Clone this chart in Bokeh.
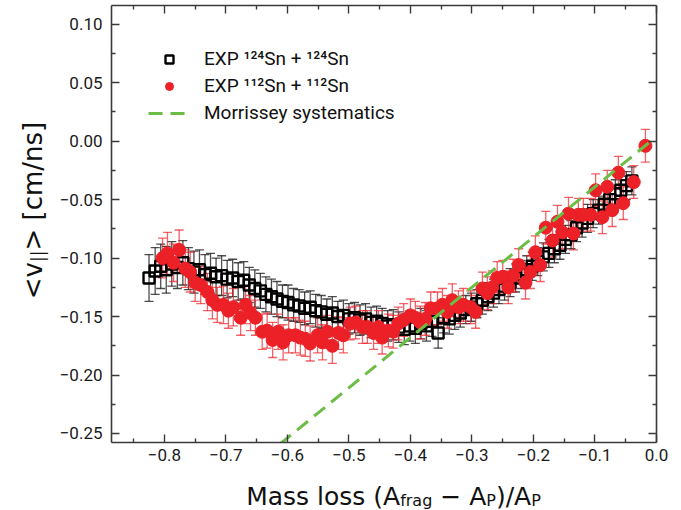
import glob
import math
import struct
from bokeh.plotting import figure
from bokeh.layouts import row, column
from bokeh.models import (Range1d, LinearAxis, FixedTicker, CustomJSTickFormatter,
                          ColumnDataSource, Whisker, TeeHead, Legend, LegendItem, Label)
from bokeh.embed import file_html
from bokeh.resources import INLINE

# ---------------- data ----------------
x_ticks = [-0.8, -0.7, -0.6, -0.5, -0.4, -0.3, -0.2, -0.1, 0.0]
x_minor = [-0.85, -0.75, -0.65, -0.55, -0.45, -0.35, -0.25, -0.15, -0.05]
y_ticks = [-0.25, -0.20, -0.15, -0.10, -0.05, 0.00, 0.05, 0.10]
y_minor = [-0.225, -0.175, -0.125, -0.075, -0.025, 0.025, 0.075]

sn124_x = [-0.825, -0.815, -0.806, -0.797, -0.788, -0.779, -0.770, -0.761, -0.752, -0.743,
           -0.734, -0.725, -0.716, -0.707, -0.698, -0.689, -0.680, -0.671, -0.662, -0.653,
           -0.644, -0.635, -0.626, -0.617, -0.608, -0.599, -0.590, -0.581, -0.572, -0.563,
           -0.554, -0.545, -0.536, -0.527, -0.518, -0.509, -0.500, -0.491, -0.482, -0.473,
           -0.464, -0.455, -0.446, -0.437, -0.428, -0.419, -0.410, -0.401, -0.392, -0.383,
           -0.374, -0.365, -0.355, -0.346, -0.337, -0.328, -0.319, -0.310, -0.301, -0.292,
           -0.283, -0.274, -0.265, -0.256, -0.247, -0.238, -0.229, -0.220, -0.211, -0.202,
           -0.193, -0.184, -0.175, -0.166, -0.157, -0.148, -0.139, -0.130, -0.121, -0.112,
           -0.103, -0.094, -0.085, -0.076, -0.067, -0.058, -0.049, -0.040]
sn124_v = [-0.117, -0.111, -0.107, -0.110, -0.105, -0.108, -0.104, -0.109, -0.112, -0.110,
           -0.114, -0.113, -0.116, -0.115, -0.118, -0.117, -0.120, -0.119, -0.123, -0.126,
           -0.128, -0.131, -0.133, -0.135, -0.137, -0.138, -0.140, -0.141, -0.143, -0.142,
           -0.145, -0.146, -0.148, -0.147, -0.150, -0.149, -0.152, -0.151, -0.153, -0.152,
           -0.155, -0.154, -0.156, -0.158, -0.157, -0.159, -0.161, -0.158, -0.160, -0.156,
           -0.158, -0.154, -0.164, -0.151, -0.152, -0.149, -0.147, -0.144, -0.142, -0.139,
           -0.136, -0.133, -0.130, -0.127, -0.124, -0.121, -0.117, -0.114, -0.110, -0.107,
           -0.103, -0.099, -0.096, -0.092, -0.089, -0.084, -0.080, -0.074, -0.070, -0.066,
           -0.062, -0.059, -0.054, -0.050, -0.045, -0.042, -0.038, -0.034]
sn124_err = [0.020, 0.020, 0.019, 0.020, 0.019, 0.018, 0.019, 0.018, 0.018, 0.017,
             0.017, 0.017, 0.016, 0.017, 0.016, 0.016, 0.016, 0.016, 0.015, 0.016,
             0.015, 0.015, 0.015, 0.015, 0.014, 0.015, 0.014, 0.014, 0.014, 0.014,
             0.014, 0.014, 0.013, 0.014, 0.013, 0.013, 0.013, 0.013, 0.013, 0.013,
             0.013, 0.013, 0.013, 0.013, 0.013, 0.013, 0.013, 0.013, 0.013, 0.013,
             0.013, 0.013, 0.013, 0.013, 0.013, 0.012, 0.012, 0.012, 0.012, 0.012,
             0.012, 0.012, 0.012, 0.012, 0.012, 0.012, 0.012, 0.012, 0.012, 0.012,
             0.012, 0.012, 0.012, 0.012, 0.012, 0.012, 0.012, 0.012, 0.012, 0.012,
             0.012, 0.012, 0.012, 0.012, 0.012, 0.012, 0.012, 0.012]

sn112_x = [-0.803, -0.795, -0.785, -0.776, -0.766, -0.758, -0.750, -0.741, -0.730, -0.722,
           -0.714, -0.704, -0.696, -0.688, -0.676, -0.668, -0.660, -0.652, -0.641, -0.633,
           -0.624, -0.615, -0.607, -0.598, -0.587, -0.579, -0.571, -0.563, -0.551, -0.543,
           -0.535, -0.527, -0.517, -0.509, -0.498, -0.489, -0.478, -0.470, -0.460, -0.452,
           -0.446, -0.436, -0.428, -0.420, -0.411, -0.400, -0.392, -0.384, -0.376, -0.367,
           -0.356, -0.348, -0.340, -0.332, -0.322, -0.314, -0.302, -0.294, -0.283, -0.275,
           -0.267, -0.259, -0.250, -0.241, -0.233, -0.224, -0.213, -0.205, -0.197, -0.189,
           -0.180, -0.169, -0.161, -0.153, -0.143, -0.135, -0.127, -0.119, -0.107, -0.099,
           -0.088, -0.080, -0.072, -0.062, -0.054, -0.037, -0.018]
sn112_v = [-0.100, -0.096, -0.104, -0.093, -0.109, -0.112, -0.121, -0.123, -0.129, -0.136,
           -0.140, -0.140, -0.145, -0.142, -0.151, -0.140, -0.147, -0.151, -0.163, -0.162,
           -0.170, -0.163, -0.172, -0.166, -0.166, -0.168, -0.169, -0.173, -0.166, -0.172,
           -0.163, -0.175, -0.164, -0.166, -0.156, -0.155, -0.159, -0.159, -0.164, -0.159,
           -0.168, -0.162, -0.163, -0.156, -0.153, -0.149, -0.151, -0.155, -0.152, -0.143,
           -0.143, -0.140, -0.146, -0.136, -0.142, -0.140, -0.142, -0.146, -0.126, -0.130,
           -0.125, -0.117, -0.116, -0.125, -0.115, -0.106, -0.121, -0.112, -0.095, -0.106,
           -0.074, -0.085, -0.069, -0.078, -0.062, -0.079, -0.063, -0.063, -0.063, -0.042,
           -0.065, -0.039, -0.059, -0.027, -0.053, -0.035, -0.004]
sn112_err = [0.017, 0.018, 0.016, 0.017, 0.016, 0.017, 0.016, 0.016, 0.016, 0.016,
             0.015, 0.016, 0.015, 0.016, 0.015, 0.016, 0.015, 0.015, 0.015, 0.015,
             0.015, 0.015, 0.015, 0.015, 0.015, 0.015, 0.015, 0.015, 0.015, 0.015,
             0.014, 0.015, 0.014, 0.015, 0.014, 0.014, 0.014, 0.014, 0.014, 0.014,
             0.014, 0.014, 0.014, 0.014, 0.014, 0.014, 0.014, 0.014, 0.014, 0.014,
             0.014, 0.014, 0.014, 0.014, 0.014, 0.014, 0.014, 0.014, 0.014, 0.014,
             0.014, 0.014, 0.014, 0.014, 0.014, 0.014, 0.014, 0.014, 0.014, 0.014,
             0.014, 0.014, 0.014, 0.014, 0.014, 0.014, 0.014, 0.014, 0.014, 0.014,
             0.014, 0.014, 0.014, 0.014, 0.014, 0.014, 0.014]

morrissey_x = [-0.612, -0.012]
morrissey_v = [-0.259, -0.0012]

legend_labels = ["EXP \u00b9\u00b2\u2074Sn + \u00b9\u00b2\u2074Sn",
                 "EXP \u00b9\u00b9\u00b2Sn + \u00b9\u00b9\u00b2Sn",
                 "Morrissey systematics"]

# ---------------- font metrics (for composing titles with subscripts) ----------------
FONT = "Roboto"
TFONT = "DejaVu Sans"


def load_widths(pats):
    for pat in pats:
        for path in sorted(glob.glob(pat, recursive=True)):
            try:
                d = open(path, "rb").read()
                n = struct.unpack(">H", d[4:6])[0]
                tabs = {}
                for i in range(n):
                    tag, _, off, ln = struct.unpack(">4sIII", d[12 + 16 * i:28 + 16 * i])
                    tabs[tag.decode("latin1")] = off
                upem = struct.unpack(">H", d[tabs["head"] + 18:tabs["head"] + 20])[0]
                nhm = struct.unpack(">H", d[tabs["hhea"] + 34:tabs["hhea"] + 36])[0]
                hm = tabs["hmtx"]
                adv = [struct.unpack(">H", d[hm + 4 * i:hm + 4 * i + 2])[0] for i in range(nhm)]
                cm = tabs["cmap"]
                nsub = struct.unpack(">H", d[cm + 2:cm + 4])[0]
                cmap = {}
                for i in range(nsub):
                    pid, eid, off = struct.unpack(">HHI", d[cm + 4 + 8 * i:cm + 12 + 8 * i])
                    st = cm + off
                    if struct.unpack(">H", d[st:st + 2])[0] != 4:
                        continue
                    sx2 = struct.unpack(">H", d[st + 6:st + 8])[0]
                    sg = sx2 // 2
                    ends = struct.unpack(">%dH" % sg, d[st + 14:st + 14 + sx2])
                    starts = struct.unpack(">%dH" % sg, d[st + 16 + sx2:st + 16 + 2 * sx2])
                    deltas = struct.unpack(">%dh" % sg, d[st + 16 + 2 * sx2:st + 16 + 3 * sx2])
                    rp = st + 16 + 3 * sx2
                    roffs = struct.unpack(">%dH" % sg, d[rp:rp + sx2])
                    for s in range(sg):
                        for c in range(starts[s], min(ends[s], 0x3000) + 1):
                            if roffs[s] == 0:
                                g = (c + deltas[s]) & 0xFFFF
                            else:
                                a = rp + 2 * s + roffs[s] + 2 * (c - starts[s])
                                g = struct.unpack(">H", d[a:a + 2])[0]
                                if g:
                                    g = (g + deltas[s]) & 0xFFFF
                            cmap[c] = g
                    break
                if cmap:
                    return lambda t, size: sum(adv[min(cmap.get(ord(ch), 0), nhm - 1)] for ch in t) / upem * size
            except Exception:
                continue
    return lambda t, size: 0.58 * size * len(t)


text_w = load_widths(["/usr/share/fonts/**/DejaVuSans.ttf", "/usr/local/share/fonts/**/DejaVuSans.ttf"])

# ---------------- page geometry ----------------
W, H = 681, 510
LEFT_W = 50            # strip holding the y title
BOT_H = 42             # strip holding the x title
MAIN_W, MAIN_H = W - LEFT_W, H - BOT_H
FL, FB = 111, 442      # frame left / bottom in page pixels

# ---------------- main figure ----------------
p = figure(width=MAIN_W, height=MAIN_H, output_backend="svg", toolbar_location=None,
           x_range=Range1d(-0.886, 0.0), y_range=Range1d(-0.2577, 0.116),
           x_axis_location=None, y_axis_location=None,
           min_border_left=FL - LEFT_W, min_border_right=25, min_border_top=5,
           min_border_bottom=MAIN_H - FB)
p.xgrid.visible = False
p.ygrid.visible = False
p.outline_line_color = None
p.background_fill_color = "white"
p.border_fill_color = "white"

AX_COL = "#3a3a3a"


def make_axis(ticks, minor, digits, labels, standoff):
    ax = LinearAxis(ticker=FixedTicker(ticks=ticks, minor_ticks=minor),
                    axis_line_color=AX_COL, axis_line_width=1.6,
                    major_tick_in=8, major_tick_out=0, minor_tick_in=4, minor_tick_out=0,
                    major_tick_line_color=AX_COL, major_tick_line_width=1.4,
                    minor_tick_line_color=AX_COL, minor_tick_line_width=1.4)
    if labels:
        ax.formatter = CustomJSTickFormatter(code=(
            "const v = Math.abs(tick) < 1e-9 ? 0 : tick;"
            "return v.toFixed(%d).replace('-', '\\u2212');" % digits))
        ax.major_label_text_font = FONT
        ax.major_label_text_font_size = "17px"
        ax.major_label_text_color = "#1a1a1a"
        ax.major_label_standoff = standoff
    else:
        ax.formatter = CustomJSTickFormatter(code="return '';")
        ax.major_label_text_font_size = "0px"
        ax.major_label_standoff = 0
    return ax


p.add_layout(make_axis(x_ticks, x_minor, 1, True, 6), "below")
p.add_layout(make_axis(x_ticks, x_minor, 1, False, 0), "above")
p.add_layout(make_axis(y_ticks, y_minor, 2, True, 9), "left")
p.add_layout(make_axis(y_ticks, y_minor, 2, False, 0), "right")

# ---------------- data renderers ----------------
RED = "#ec2027"
src124 = ColumnDataSource(dict(x=sn124_x, y=sn124_v,
                               lo=[v - e for v, e in zip(sn124_v, sn124_err)],
                               hi=[v + e for v, e in zip(sn124_v, sn124_err)]))
src112 = ColumnDataSource(dict(x=sn112_x, y=sn112_v,
                               lo=[v - e for v, e in zip(sn112_v, sn112_err)],
                               hi=[v + e for v, e in zip(sn112_v, sn112_err)]))


def whisker(src, color, alpha):
    return Whisker(source=src, base="x", lower="lo", upper="hi",
                   line_color=color, line_alpha=alpha, line_width=1.3,
                   upper_head=TeeHead(size=9, line_color=color, line_alpha=alpha, line_width=1.3),
                   lower_head=TeeHead(size=9, line_color=color, line_alpha=alpha, line_width=1.3))


p.add_layout(whisker(src124, "#111111", 0.75))
p.add_layout(whisker(src112, RED, 0.7))

r124 = p.scatter("x", "y", source=src124, marker="square", size=11,
                 fill_color=None, line_color="black", line_width=2.4)
r112 = p.scatter("x", "y", source=src112, marker="circle", size=13,
                 fill_color=RED, line_color=RED, line_width=1)
rm = p.line(morrissey_x, morrissey_v, line_color="#6bbd45", line_width=3, line_dash="14 8")

legend = Legend(items=[LegendItem(label=legend_labels[0], renderers=[r124]),
                       LegendItem(label=legend_labels[1], renderers=[r112]),
                       LegendItem(label=legend_labels[2], renderers=[rm])],
                location=(37, 318), orientation="vertical",
                padding=0, margin=0, spacing=4, glyph_width=42, glyph_height=20,
                label_height=20, label_standoff=14,
                label_text_font=FONT, label_text_font_size="19px", label_text_color="#111111",
                border_line_color=None, background_fill_alpha=0)
p.add_layout(legend)


# ---------------- title strips ----------------
def strip(w, h):
    f = figure(width=w, height=h, output_backend="svg", toolbar_location=None,
               x_range=Range1d(0, 1), y_range=Range1d(0, 1),
               x_axis_location=None, y_axis_location=None,
               min_border=0, min_border_left=0, min_border_right=0,
               min_border_top=0, min_border_bottom=0)
    f.xgrid.visible = False
    f.ygrid.visible = False
    f.outline_line_color = None
    f.border_fill_color = "white"
    f.background_fill_color = "white"
    return f


left_strip = strip(LEFT_W, MAIN_H)   # page x 0..50, y 0..468
bottom_strip = strip(W, BOT_H)       # page x 0..681, y 468..510

NB = "\u00a0"


def piece(fig, text, x, y, size, angle=0.0):
    fig.add_layout(Label(x=x, y=y, x_units="screen", y_units="screen",
                         text=text, angle=angle, text_font=TFONT, text_font_size="%dpx" % size,
                         text_color="#111111", text_align="left", text_baseline="alphabetic"))


# x title: Mass loss (A_frag - A_P)/A_P ; page baseline y=496
XBIG, XSMALL = 25, 16
xparts = [("Mass loss (A", XBIG, 0), ("frag", XSMALL, 4), (NB + "\u2212" + NB + "A", XBIG, 0),
          ("P", XSMALL, 4), (")/A", XBIG, 0), ("P", XSMALL, 4)]
total = sum(text_w(t, s) for t, s, _ in xparts)
cx = 393 - total / 2
for t, s, dy in xparts:
    piece(bottom_strip, t, cx, H - (496 + dy), s)
    cx += text_w(t, s)

# y title: <v_||> [cm/ns]  (rotated, reading bottom to top)
YBIG, YSMALL = 26, 17
yparts = [("<v", YBIG, 0), ("||", YSMALL, 5), (">" + NB + "[cm/ns]", YBIG, 0)]
total = sum(text_w(t, s) for t, s, _ in yparts)
cy = 236 + total / 2
for t, s, dx in yparts:
    piece(left_strip, t, 32 + dx, MAIN_H - cy, s, angle=math.pi / 2)
    cy -= text_w(t, s)

layout = column(row(left_strip, p, spacing=0), bottom_strip, spacing=0)
open("out.html", "w").write(file_html(layout, INLINE))
